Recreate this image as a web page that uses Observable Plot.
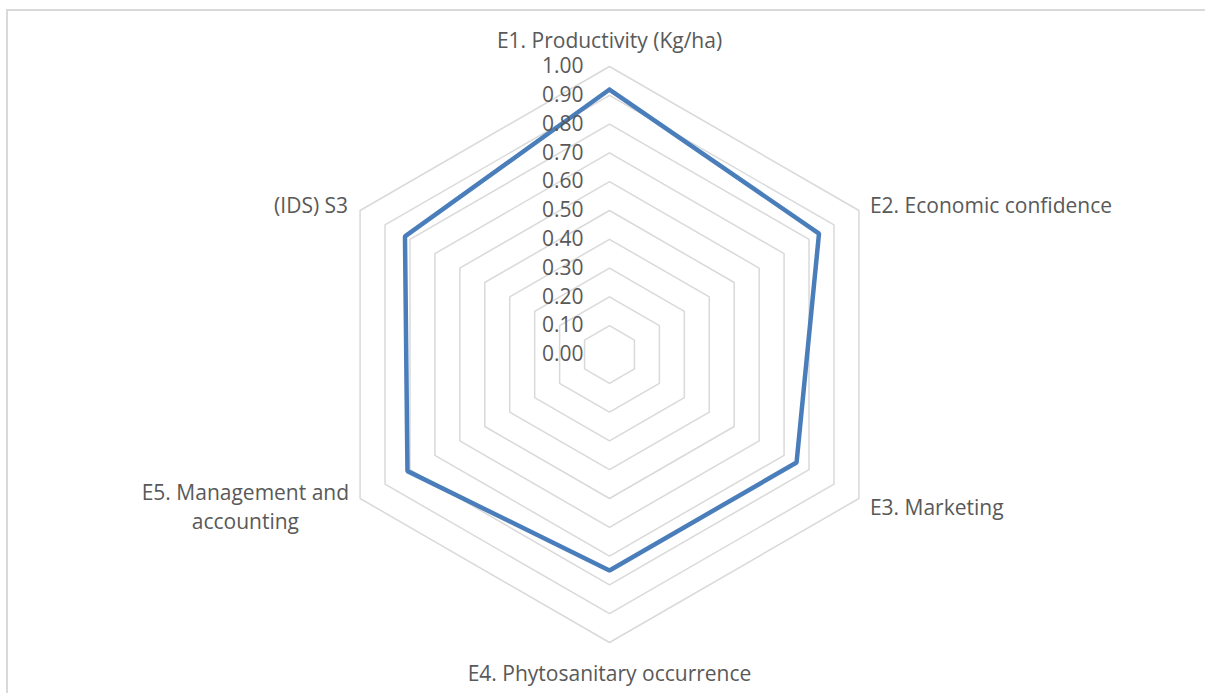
<!DOCTYPE html>
<html><head><meta charset="utf-8">
<script src="https://cdn.jsdelivr.net/npm/d3@7"></script>
<script src="https://cdn.jsdelivr.net/npm/@observablehq/plot@0.6"></script>
<style>
body{margin:0;background:#fff;overflow:hidden}
#wrap{position:relative;width:1205px;height:693px;overflow:hidden}
#frame{position:absolute;left:6px;top:9px;width:1400px;height:800px;border:2px solid #d9d9d9;box-sizing:border-box}
#chart{position:absolute;left:0;top:0}
</style></head><body>
<div id="wrap"><div id="frame"></div><div id="chart"></div></div>
<script>
const categories = ["E1. Productivity (Kg/ha)", "E2. Economic confidence", "E3. Marketing", "E4. Phytosanitary occurrence", "E5. Management and\naccounting", "(IDS) S3"];
const values = [0.92, 0.84, 0.75, 0.75, 0.81, 0.82];
const tickValues = [0.0, 0.1, 0.2, 0.3, 0.4, 0.5, 0.6, 0.7, 0.8, 0.9, 1.0];

const W = 1205, H = 693, CX = 609, CY = 354, R = 288;
const FONT = "Open Sans";
const FS = 21;
const n = categories.length;
const ang = i => (i * 2 * Math.PI) / n;
const px = (r, i) => r * Math.sin(ang(i));
const py = (r, i) => r * Math.cos(ang(i));

// rings
const rings = [];
for (const t of tickValues) {
  if (t === 0) continue;
  for (let i = 0; i <= n; i++) rings.push({t, x: px(t, i % n), y: py(t, i % n)});
}
// series
const series = [];
for (let i = 0; i <= n; i++) series.push({x: px(values[i % n], i % n), y: py(values[i % n], i % n)});

// label layout (pixel offsets from the outer vertex)
const ctx = document.createElement("canvas").getContext("2d");
ctx.font = `${FS}px '${FONT}'`;
const wE5 = ctx.measureText("E5. Management and").width;
const layout = [
  {anchor: "middle", dx: 0, dy: -28},
  {anchor: "start", dx: 11, dy: -7},
  {anchor: "start", dx: 11, dy: 7},
  {anchor: "middle", dx: 0, dy: 29},
  {anchor: "middle", dx: -(11 + wE5 / 2), dy: 7},
  {anchor: "end", dx: -12, dy: -7}
];
const labels = categories.map((c, i) => ({
  text: c,
  x: px(1, i) + layout[i].dx / R,
  y: py(1, i) - layout[i].dy / R,
  anchor: layout[i].anchor
}));

const textMarks = ["start", "middle", "end"].map(a =>
  Plot.text(labels.filter(d => d.anchor === a), {
    x: "x", y: "y", text: "text", textAnchor: a, lineAnchor: "middle",
    lineHeight: 1.38, fill: "#595959", fontSize: FS, fontFamily: FONT
  })
);

const chart = Plot.plot({
  width: W, height: H,
  margin: 0,
  x: {domain: [-CX / R, (W - CX) / R], range: [0, W], axis: null},
  y: {domain: [-(H - CY) / R, CY / R], range: [H, 0], axis: null},
  style: {background: "transparent", fontFamily: FONT},
  marks: [
    Plot.line(rings, {x: "x", y: "y", z: "t", stroke: "#d9d9d9", strokeWidth: 1.5}),
    Plot.line(series, {x: "x", y: "y", stroke: "#4a7ebb", strokeWidth: 4.5, strokeLinejoin: "miter"}),
    Plot.text(tickValues, {x: () => 0, y: d => d, text: d => d.toFixed(2), textAnchor: "end", dx: -26,
      fill: "#595959", fontSize: FS, fontFamily: FONT}),
    ...textMarks
  ]
});
document.getElementById("chart").appendChild(chart);
</script>
</body></html>
